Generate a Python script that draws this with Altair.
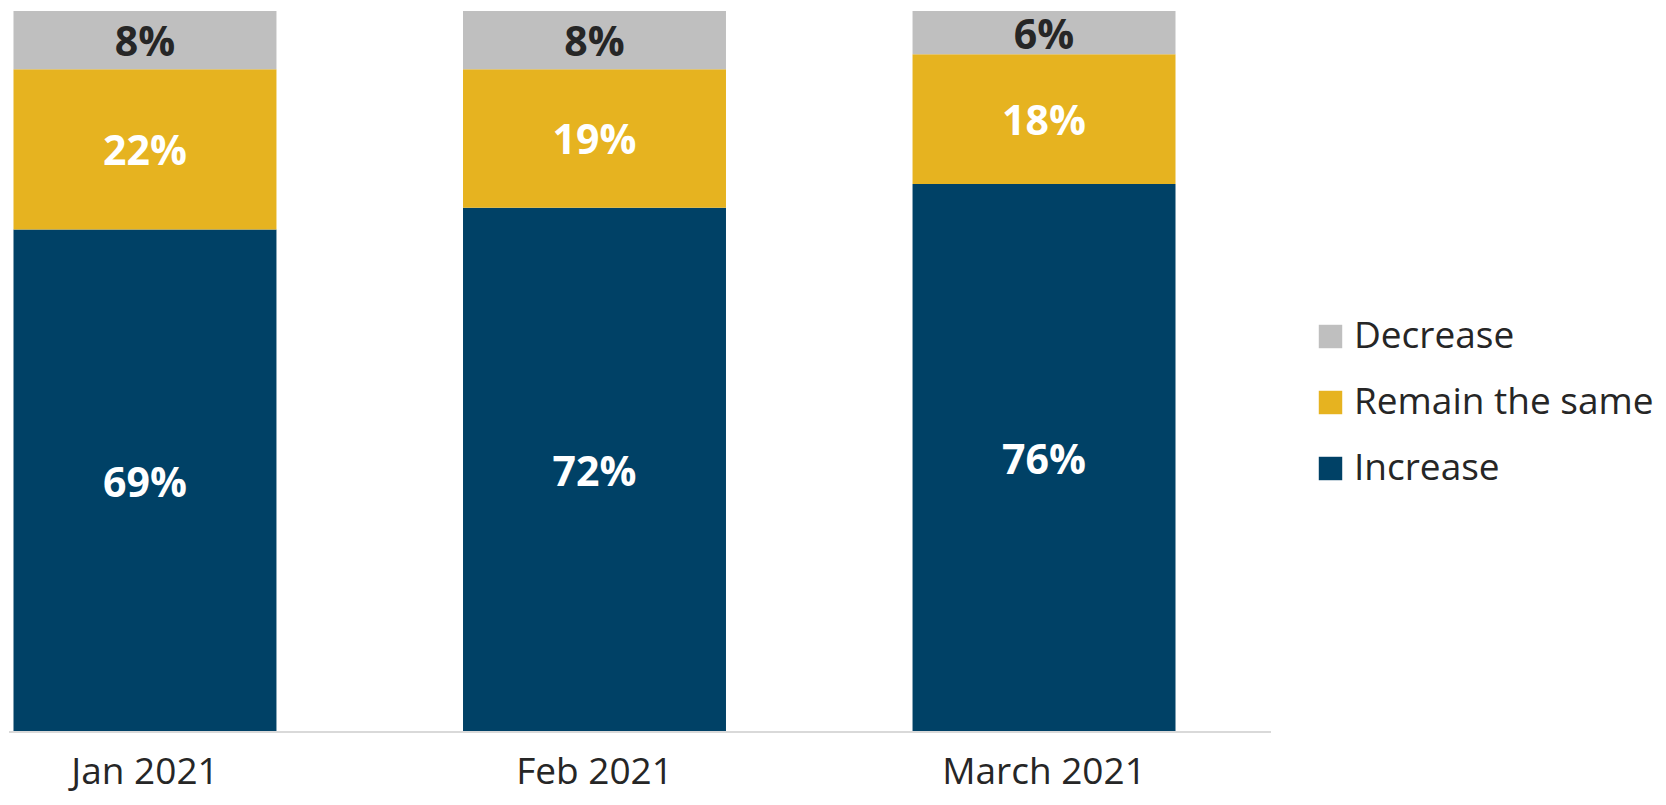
import altair as alt
import pandas as pd

months = ["Jan 2021", "Feb 2021", "March 2021"]
categories = ["Increase", "Remain the same", "Decrease"]
increase = [69, 72, 76]
remain = [22, 19, 18]
decrease = [8, 8, 6]

rows = []
for i, m in enumerate(months):
    for k, (c, vals) in enumerate(zip(categories, [increase, remain, decrease])):
        rows.append({"month": m, "cat": c, "value": vals[i], "order": k})
df = pd.DataFrame(rows)

FONT = "Open Sans"
H = 721
color_scale = alt.Scale(
    domain=["Decrease", "Remain the same", "Increase"],
    range=["#BFBFBF", "#E6B320", "#004166"],
)

x_enc = alt.X(
    "month:N",
    sort=months,
    title=None,
    scale=alt.Scale(paddingInner=0.415, paddingOuter=0.01),
    axis=alt.Axis(
        labelFont=FONT, labelFontSize=37, labelColor="#262626",
        labelPadding=22, labelLimit=500, ticks=False, domain=False, labelAngle=0,
    ),
)

base = alt.Chart(df).transform_stack(
    stack="value", groupby=["month"], sort=[alt.SortField("order")],
    as_=["y0", "y1"], offset="normalize",
).transform_calculate(
    mid="(datum.y0 + datum.y1) / 2",
    label="datum.value + '%'",
)

bars = base.mark_bar().encode(
    x=x_enc,
    y=alt.Y("y0:Q", scale=alt.Scale(domain=[0, 1], nice=False), axis=None),
    y2="y1:Q",
    color=alt.Color(
        "cat:N", scale=color_scale, title=None,
        legend=alt.Legend(
            orient="none", legendX=1303, legendY=307,
            labelFont=FONT, labelFontSize=37, labelColor="#262626",
            labelLimit=400,
            symbolType="square", symbolSize=550, symbolStrokeWidth=0,
            rowPadding=28, labelOffset=5,
        ),
    ),
)

labels = base.mark_text(font=FONT, fontSize=41, fontWeight="bold", yOffset=4).encode(
    x=alt.X("month:N", sort=months),
    y=alt.Y("mid:Q", scale=alt.Scale(domain=[0, 1], nice=False)),
    text="label:N",
    color=alt.condition(
        alt.datum.cat == "Decrease", alt.value("#262626"), alt.value("#FFFFFF")
    ),
)

baseline = alt.Chart(pd.DataFrame({"a": [0]})).mark_rule(
    color="#D9D9D9", strokeWidth=2
).encode(x=alt.value(0), x2=alt.value(1262), y=alt.value(H))

chart = alt.layer(bars, labels, baseline).properties(
    width=1171, height=H, padding={"left": 0, "top": 3, "right": 0, "bottom": 6}
).configure_view(stroke=None)

chart.save("out.html", embed_options={"renderer": "svg", "actions": False})
